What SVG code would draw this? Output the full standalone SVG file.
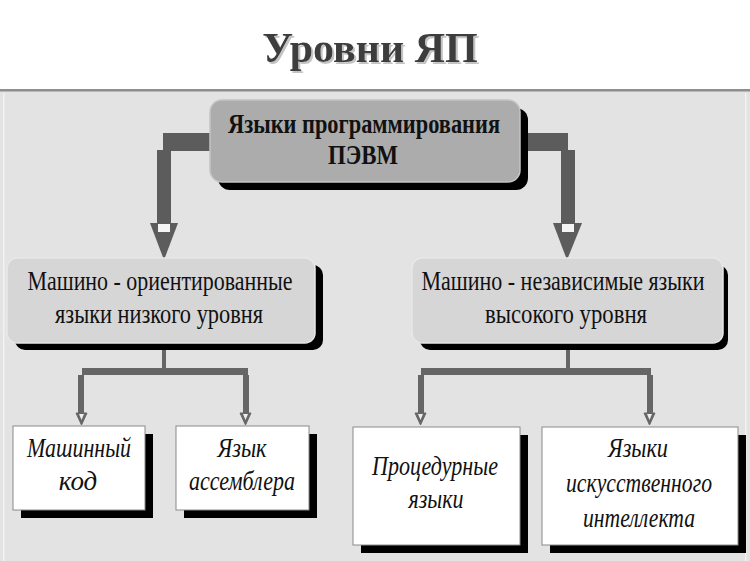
<svg xmlns="http://www.w3.org/2000/svg" width="750" height="561" viewBox="0 0 750 561">
<style>
.title{font-family:"Liberation Serif","Times New Roman",serif;font-weight:bold;font-size:42px;fill:#3c3c3c;text-anchor:middle}
.top{font-family:"Liberation Serif","Times New Roman",serif;font-weight:bold;font-size:24px;fill:#111;text-anchor:middle}
.mid{font-family:"Liberation Serif","Times New Roman",serif;font-size:23px;fill:#111;text-anchor:middle}
.bot{font-family:"Liberation Serif","Times New Roman",serif;font-style:italic;font-size:27px;fill:#111;text-anchor:middle}
.shadow{fill:#000}
.topbox{fill:#acacac;stroke:#c4c4c4;stroke-width:1.5}
.midbox{fill:#d6d6d6;stroke:#e8e8e8;stroke-width:1.5}
.botbox{fill:#fff;stroke:#8a8a8a;stroke-width:1}
.bar{fill:#5c5c5c}
.thin{fill:#666}
.head{fill:#666;stroke:#666;stroke-width:1}
</style>
<defs>
<filter id="tsh" x="-10%" y="-20%" width="130%" height="150%">
<feOffset in="SourceAlpha" dx="2" dy="2" result="o"/>
<feFlood flood-color="#c4c4c4"/>
<feComposite in2="o" operator="in" result="s"/>
<feMerge><feMergeNode in="s"/><feMergeNode in="SourceGraphic"/></feMerge>
</filter>
</defs>
<rect x="0" y="0" width="750" height="561" fill="#fff"/>
<rect x="0" y="91" width="750" height="470" fill="#e3e3e3"/>
<rect x="0" y="89" width="750" height="2.5" fill="#8e8e8e"/>
<rect x="3" y="93" width="1.5" height="468" fill="#f2f2f2"/>
<rect x="745" y="93" width="1.5" height="468" fill="#f2f2f2"/>
<g id="title">
<text class="title" x="370" y="62" filter="url(#tsh)">Уровни ЯП</text>
</g>
<g id="connectors">
<rect class="bar" x="163" y="133" width="48" height="18"/>
<rect class="bar" x="157" y="150" width="14" height="74"/>
<polygon class="bar" points="150,223 178,223 164,260"/>
<rect x="158" y="224" width="12" height="8" fill="#f4f4f4"/>
<rect class="bar" x="524" y="133" width="44" height="18"/>
<rect class="bar" x="561" y="150" width="14" height="74"/>
<polygon class="bar" points="553,223 582,223 567,260"/>
<rect x="562" y="224" width="12" height="8" fill="#f4f4f4"/>
<rect class="thin" x="162" y="345" width="4" height="24"/>
<rect class="thin" x="82" y="368" width="166" height="7"/>
<rect class="thin" x="78" y="375" width="6" height="39"/>
<polygon class="head" points="76,413 87,413 81.5,425"/>
<polygon points="79,414 84,414 81.5,420" fill="#eee"/>
<rect class="thin" x="243" y="375" width="6" height="39"/>
<polygon class="head" points="240,413 251,413 245.5,425"/>
<polygon points="243,414 248,414 245.5,420" fill="#eee"/>
<rect class="thin" x="566" y="345" width="4" height="24"/>
<rect class="thin" x="421" y="368" width="230" height="7"/>
<rect class="thin" x="418" y="375" width="6" height="39"/>
<polygon class="head" points="415,413 426,413 420.5,425"/>
<polygon points="418,414 423,414 420.5,420" fill="#eee"/>
<rect class="thin" x="647" y="375" width="6" height="39"/>
<polygon class="head" points="644,413 655,413 649.5,425"/>
<polygon points="647,414 652,414 649.5,420" fill="#eee"/>
</g>
<g id="node-root">
<rect class="shadow" x="218" y="108" width="310" height="82" rx="12"/>
<rect class="topbox" x="210" y="100" width="310" height="82" rx="12"/>
<text class="top" transform="translate(364,133) scale(1,1.17)" textLength="272" lengthAdjust="spacingAndGlyphs">Языки программирования</text>
<text class="top" transform="translate(363,164) scale(1,1.17)" textLength="70" lengthAdjust="spacingAndGlyphs">ПЭВМ</text>
</g>
<g id="node-low">
<rect class="shadow" x="15" y="265" width="308" height="85" rx="10"/>
<rect class="midbox" x="7" y="258" width="308" height="85" rx="10"/>
<text class="mid" transform="translate(160,290) scale(1,1.15)" textLength="265" lengthAdjust="spacingAndGlyphs">Машино - ориентированные</text>
<text class="mid" transform="translate(159,323) scale(1,1.15)" textLength="208" lengthAdjust="spacingAndGlyphs">языки низкого уровня</text>
</g>
<g id="node-high">
<rect class="shadow" x="420" y="265" width="308" height="85" rx="10"/>
<rect class="midbox" x="412" y="258" width="311" height="85" rx="10"/>
<text class="mid" transform="translate(563,290) scale(1,1.15)" textLength="283" lengthAdjust="spacingAndGlyphs">Машино - независимые языки</text>
<text class="mid" transform="translate(566,323) scale(1,1.15)" textLength="162" lengthAdjust="spacingAndGlyphs">высокого уровня</text>
</g>
<g id="node-machine">
<rect class="shadow" x="21" y="434" width="132" height="84"/>
<rect class="botbox" x="13" y="426" width="132" height="84"/>
<text class="bot" x="79" y="457" textLength="104" lengthAdjust="spacingAndGlyphs">Машинный</text>
<text class="bot" x="78" y="490">код</text>
</g>
<g id="node-asm">
<rect class="shadow" x="184" y="434" width="133" height="84"/>
<rect class="botbox" x="176" y="426" width="133" height="84"/>
<text class="bot" x="242" y="457" textLength="49" lengthAdjust="spacingAndGlyphs">Язык</text>
<text class="bot" x="242" y="490" textLength="106" lengthAdjust="spacingAndGlyphs">ассемблера</text>
</g>
<g id="node-proc">
<rect class="shadow" x="361" y="435" width="167" height="118"/>
<rect class="botbox" x="353" y="427" width="167" height="118"/>
<text class="bot" x="435" y="475" textLength="126" lengthAdjust="spacingAndGlyphs">Процедурные</text>
<text class="bot" x="436" y="508" textLength="55" lengthAdjust="spacingAndGlyphs">языки</text>
</g>
<g id="node-ai">
<rect class="shadow" x="550" y="435" width="196" height="118"/>
<rect class="botbox" x="542" y="427" width="196" height="118"/>
<text class="bot" x="638" y="457" textLength="60" lengthAdjust="spacingAndGlyphs">Языки</text>
<text class="bot" x="639" y="492" textLength="146" lengthAdjust="spacingAndGlyphs">искусственного</text>
<text class="bot" x="639" y="527" textLength="112" lengthAdjust="spacingAndGlyphs">интеллекта</text>
</g>
</svg>
